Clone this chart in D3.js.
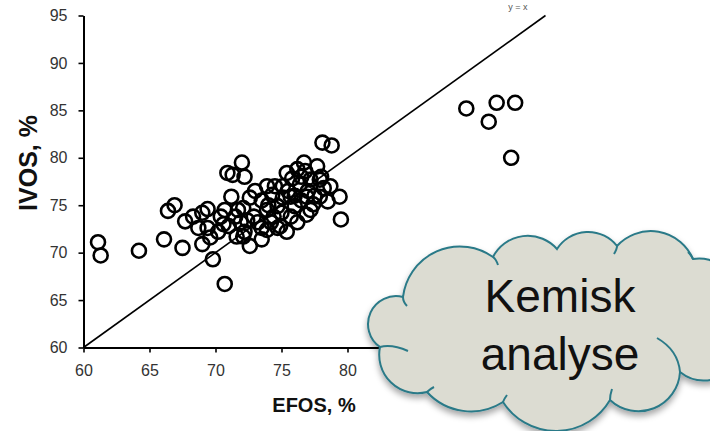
<!DOCTYPE html>
<html><head><meta charset="utf-8">
<script src="https://cdn.jsdelivr.net/npm/d3@7"></script>
<style>
html,body{margin:0;padding:0;background:#fff;}
svg{display:block;font-family:"Liberation Sans",Arial,sans-serif;}
</style></head>
<body>
<svg id="chart" width="710" height="431"></svg>
<script>
// ---- data ----
const efos = [61.1,61.3,64.2,66.1,66.4,66.9,67.5,67.7,68.3,68.7,69.0,69.0,69.4,69.4,69.8,70.4,70.6,70.7,70.7,70.9,
  71.0,71.2,71.3,71.6,71.7,71.9,72.0,72.1,72.1,72.2,72.2,72.6,72.6,72.9,73.5,73.5,73.9,73.9,73.9,74.3,
  74.4,74.7,74.7,74.9,75.0,75.1,75.1,75.4,75.4,75.7,75.7,76.0,76.2,76.2,76.4,76.7,76.9,76.9,77.2,77.2,
  77.4,77.7,77.9,77.9,78.1,78.5,78.7,78.8,79.4,79.5,
  73.0,73.5,74.0,74.5,75.5,76.0,76.5,76.8,77.0,77.5,78.0,75.8,74.2,73.2,72.4,71.5,70.2,69.6,76.5,78.2,
  89.0,90.7,91.3,92.7,92.4];
const ivos = [71.1,69.7,70.2,71.4,74.4,75.0,70.5,73.3,73.8,72.6,70.9,74.2,74.6,72.6,69.3,73.8,73.0,74.5,66.7,78.4,
  72.8,75.9,78.2,71.7,74.5,73.2,79.5,71.7,74.7,78.0,72.2,75.8,70.7,73.8,72.6,71.4,77.0,74.5,72.4,76.1,
  73.8,72.6,74.9,72.8,74.2,75.8,77.0,78.4,72.2,75.9,73.8,74.9,78.8,73.2,77.2,79.5,75.9,74.0,77.7,74.5,
  75.1,79.1,77.7,75.9,81.6,75.4,77.0,81.3,75.9,73.5,
  76.5,75.5,75.0,77.0,76.5,76.0,78.0,78.6,76.5,76.0,78.0,77.8,73.2,73.2,73.4,73.8,72.2,71.6,75.5,76.8,
  85.2,83.8,85.8,85.8,80.0];
const xTicks = [60,65,70,75,80];
const yTicks = [60,65,70,75,80,85,90,95];
const xLabel = "EFOS, %";
const yLabel = "IVOS, %";
const lineLabel = "y = x";
const cloudText = ["Kemisk","analyse"];

// ---- layout ----
const svg = d3.select("#chart");
const x = d3.scaleLinear().domain([60,95]).range([83.5,545.5]);
const y = d3.scaleLinear().domain([60,95]).range([347.5,15.5]);

// y = x line
svg.append("line")
  .attr("x1",x(60)).attr("y1",y(60)).attr("x2",x(95)).attr("y2",y(95))
  .attr("stroke","#000").attr("stroke-width",1.6);
svg.append("text").attr("x",x(92.9)).attr("y",y(95)-6)
  .attr("text-anchor","middle").attr("font-size",9).attr("fill","#555").text(lineLabel);

// points
svg.append("g").selectAll("circle").data(efos.map((d,i)=>[d,ivos[i]])).join("circle")
  .attr("cx",d=>x(d[0])).attr("cy",d=>y(d[1])).attr("r",7)
  .attr("fill","none").attr("stroke","#000").attr("stroke-width",2.6);

// axes
const xAxis = svg.append("g").attr("transform",`translate(0,${y(60)})`)
  .call(d3.axisBottom(x).tickValues(xTicks).tickSize(5).tickPadding(12).tickSizeOuter(0));
const yAxis = svg.append("g").attr("transform",`translate(${x(60)},0)`)
  .call(d3.axisLeft(y).tickValues(yTicks).tickSize(5).tickPadding(11).tickSizeOuter(0));
[xAxis,yAxis].forEach(a=>{
  a.select(".domain").attr("stroke","#000").attr("stroke-width",2);
  a.selectAll(".tick line").attr("stroke","#000").attr("stroke-width",1.6);
  a.selectAll(".tick text").attr("font-size",16).attr("fill","#333")
    .attr("font-family","'Liberation Sans',Arial,sans-serif");
});

svg.append("text").attr("x",314).attr("y",412).attr("text-anchor","middle")
  .attr("font-size",20).attr("font-weight","bold").attr("fill","#111").text(xLabel);
svg.append("text").attr("transform","translate(37,163) rotate(-90)").attr("text-anchor","middle")
  .attr("font-size",25).attr("font-weight","bold").attr("fill","#111").text(yLabel);

// ---- cloud callout (decoration) ----
const defs = svg.append("defs");
const f = defs.append("filter").attr("id","shadow").attr("x","-20%").attr("y","-20%").attr("width","140%").attr("height","150%");
f.append("feDropShadow").attr("dx",0).attr("dy",4).attr("stdDeviation",3).attr("flood-color","#000").attr("flood-opacity",0.35);

const cloudPts = [[403,297],[493,257],[557,249],[617,246],[693,259],[735,300],[738,360],[680,372],[610,400],[503,402],[427,392],[380,347]];
const cloudSag = [28,17,15.5,21,15,12,14,24,30,14,18,23];
function arcTo(a,b,s){
  const c = Math.hypot(b[0]-a[0],b[1]-a[1]);
  const r = (c*c/4 + s*s)/(2*s);
  const large = s > c/2 ? 1 : 0;
  return `A${r},${r} 0 ${large} 1 ${b[0]},${b[1]}`;
}
let p = `M${cloudPts[0][0]},${cloudPts[0][1]}`;
for(let i=0;i<cloudPts.length;i++){
  p += arcTo(cloudPts[i], cloudPts[(i+1)%cloudPts.length], cloudSag[i]);
}
p += "Z";
svg.append("path").attr("d",p).attr("fill","#dcdcd2").attr("stroke","#2b7a88")
  .attr("stroke-width",2).attr("filter","url(#shadow)");
const hooks = [
  [[380,347],[392,344],[408,351]],
  [[680,372],[678,350],[657,338]],
  [[403,297],[403,302],[407,306]],
  [[493,257],[496,259],[498,265]],
  [[617,246],[617,249],[614,254]],
  [[693,259],[691,255],[688,252]],
  [[427,392],[430,389],[434,387]],
  [[503,402],[504,399],[507,395]],
  [[610,400],[610,395],[612,389]]
];
svg.append("g").selectAll("path").data(hooks).join("path")
  .attr("d",h=>`M${h[0][0]},${h[0][1]}Q${h[1][0]},${h[1][1]} ${h[2][0]},${h[2][1]}`)
  .attr("fill","none").attr("stroke","#2b7a88").attr("stroke-width",2);

svg.append("g").selectAll("text").data(cloudText).join("text")
  .attr("x",560).attr("y",(d,i)=>312+i*58).attr("text-anchor","middle")
  .attr("font-size",46).attr("fill","#111").text(d=>d);
</script>
</body></html>
